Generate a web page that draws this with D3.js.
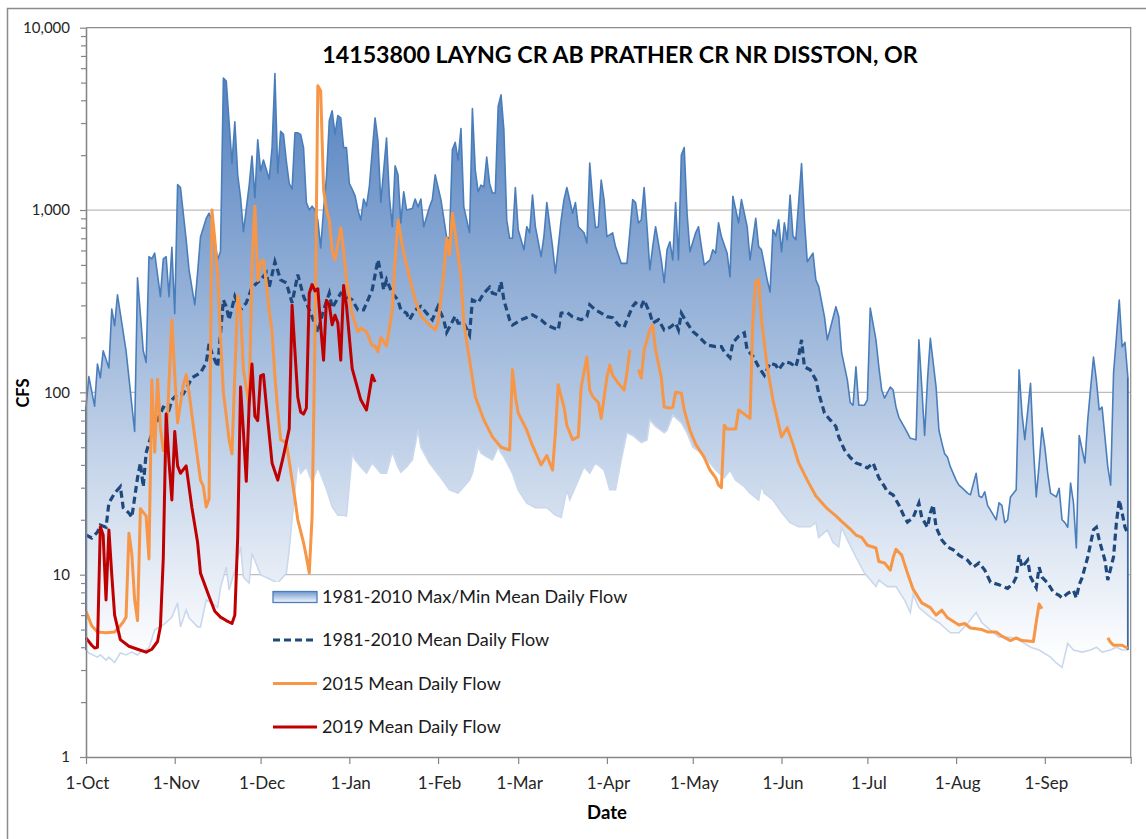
<!DOCTYPE html>
<html><head><meta charset="utf-8">
<script src="https://cdn.jsdelivr.net/npm/d3@7"></script>
<style>body{margin:0;background:#fff;} svg{display:block;font-family:Lato,"Open Sans",sans-serif;}</style>
</head><body><svg id="chart" width="1146" height="839"></svg>
<script>
// ---------- DATA (day index from 1-Oct, value in CFS) ----------
const chartTitle = "14153800 LAYNG CR AB PRATHER CR NR DISSTON, OR";
const yAxisTitle = "CFS";
const xAxisTitle = "Date";
const legendLabels = ["1981-2010 Max/Min Mean Daily Flow", "1981-2010 Mean Daily Flow", "2015 Mean Daily Flow", "2019 Mean Daily Flow"];
const yTickValues = [1, 10, 100, 1000, 10000];

const maxFlow = [[0,83],[1,122],[3,84],[4,143],[5,120],[6,169],[8,136],[9,286],[10,232],[11,343],[14,169],[17,61],[18,425],[20,169],[21,146],[22,555],[23,540],[24,580],[26,335],[27,540],[28,555],[29,335],[30,625],[31,270],[32,1380],[33,1330],[35,687],[36,470],[38,302],[39,455],[40,711],[42,900],[43,960],[44,883],[46,533],[47,595],[48,5300],[49,5100],[51,1800],[52,3050],[53,1560],[54,1170],[55,760],[57,1360],[58,1980],[59,1170],[60,2430],[61,1640],[62,1880],[64,1480],[65,2190],[66,5600],[67,1590],[68,2700],[69,2600],[70,1850],[71,1400],[72,1300],[73,2650],[74,2650],[75,2600],[76,2200],[77,1100],[78,1000],[79,1050],[80,1000],[81,880],[82,620],[83,1000],[84,1500],[85,3100],[86,3500],[87,2600],[88,3300],[89,3200],[90,2200],[91,2200],[92,1400],[93,1300],[94,1200],[95,1000],[96,880],[97,1150],[98,1050],[99,1350],[100,2100],[101,3200],[102,2400],[103,1100],[105,2480],[106,1180],[107,810],[108,1750],[109,1560],[110,850],[111,1260],[112,1000],[114,1020],[115,1150],[116,1040],[117,1150],[118,810],[120,1040],[121,1140],[122,1560],[124,1140],[126,710],[127,700],[128,2140],[129,2350],[130,1880],[131,2800],[132,1040],[134,750],[135,3600],[136,1660],[137,1260],[138,1370],[139,1340],[140,1950],[141,1400],[142,1240],[143,1240],[144,3700],[145,4280],[146,2750],[147,880],[148,700],[149,700],[150,1330],[151,780],[153,605],[154,810],[155,750],[156,1210],[157,810],[159,555],[160,720],[161,1100],[163,630],[164,450],[166,880],[167,1140],[168,1330],[170,960],[171,1100],[172,810],[174,750],[175,660],[176,1810],[177,1140],[178,800],[179,810],[180,1460],[181,1140],[182,715],[184,750],[185,630],[187,510],[189,510],[190,750],[191,1140],[192,1100],[193,850],[194,880],[195,1330],[196,810],[197,470],[198,630],[199,810],[201,533],[202,400],[203,605],[204,670],[205,533],[206,1100],[207,533],[208,2000],[209,2200],[210,960],[211,590],[213,750],[214,810],[215,630],[216,500],[218,533],[219,605],[220,580],[221,850],[222,715],[224,580],[225,430],[226,1190],[228,850],[229,1140],[231,810],[232,533],[234,900],[235,630],[236,605],[238,414],[239,355],[240,780],[241,720],[242,883],[243,590],[244,850],[245,687],[246,1210],[247,720],[248,687],[250,1800],[251,883],[252,520],[254,580],[255,414],[256,380],[258,260],[259,194],[262,295],[263,260],[264,165],[266,117],[267,88],[268,85],[269,138],[270,85],[272,85],[273,91],[274,290],[276,194],[277,138],[278,103],[279,93],[281,107],[282,103],[283,83],[284,73],[286,64],[287,60],[288,56],[290,55],[291,194],[292,107],[293,58],[294,117],[295,198],[297,107],[298,62],[299,53],[300,46],[301,44],[302,39],[304,33],[305,31],[306,30],[307,29],[308,28],[309,27.4],[311,36],[312,27],[313,26.5],[314,28.5],[315,24],[316,22.6],[318,20],[319,24.8],[320,24],[321,19.3],[322,20],[323,26.7],[325,29.2],[326,133],[327,77],[328,55],[330,112],[331,50],[332,26.7],[333,40],[334,64],[335,50],[336,36],[337,28],[339,26.7],[340,29.8],[341,20],[342,19.3],[343,18.2],[344,31.8],[345,24.8],[346,14],[347,58],[349,41],[350,71],[352,156],[353,117],[354,80],[355,83],[357,39],[358,31],[359,127],[360,200],[361,321],[362,178],[363,188],[364,121]];

const minFlow = [[0,3.86],[1,3.72],[4,3.53],[5,3.63],[7,3.4],[8,3.53],[10,3.3],[12,3.72],[14,3.63],[16,3.76],[18,3.63],[19,3.76],[22,3.96],[24,4.97],[25,5.1],[27,5.3],[29,5.64],[30,5.85],[32,7.0],[33,5.17],[35,6.4],[36,5.8],[39,5.17],[40,5.17],[42,7.26],[44,7.0],[46,6.6],[47,8.5],[49,11],[50,8.24],[52,10.6],[54,14.2],[55,9.7],[57,9.0],[58,13.1],[61,9.96],[64,9.5],[67,9.0],[70,10.2],[71,13.7],[72,20.2],[74,41.5],[75,36],[77,39],[79,32],[81,39],[84,29.5],[86,23.6],[88,21.2],[90,21.2],[91,21],[93,46],[94,42.6],[96,39],[98,36],[100,41],[103,36],[105,36],[107,47],[109,39],[110,36.5],[112,39],[114,42.6],[116,62],[117,50],[120,41],[124,34],[127,29.2],[130,28],[132,30.4],[134,33],[135,36],[137,50],[138,46.5],[140,44.3],[142,42.6],[144,50],[145,46.5],[146,44.3],[149,36],[151,29.2],[154,24.7],[157,23.3],[161,23.3],[164,21.2],[166,20.6],[168,29.2],[169,25.7],[171,30.4],[174,39],[176,36],[178,41],[181,37.5],[183,29.2],[185,29.2],[187,42.6],[189,60],[191,58],[194,53],[196,54.8],[197,70.6],[199,65],[202,60],[203,62],[205,75],[208,68],[210,60],[212,50],[215,46.5],[218,41],[220,37.5],[223,34],[225,37.5],[227,33],[230,30.4],[232,28],[235,25.7],[236,31],[237,28],[240,25.7],[243,22],[246,19.3],[249,18.3],[253,18.3],[255,19.3],[256,16],[259,17.6],[261,15],[263,14.2],[264,18.2],[266,15.5],[269,12.5],[272,10.2],[276,8.6],[277,9.35],[280,8.6],[283,8.6],[286,7.26],[288,6.2],[289,7.8],[291,6.6],[295,5.85],[298,5.45],[302,4.8],[305,4.8],[308,5.4],[311,6.2],[313,5.45],[316,4.97],[319,4.54],[323,4.54],[326,4.38],[330,4.0],[333,3.86],[337,3.53],[339,3.28],[341,3.1],[343,4.2],[345,3.86],[348,3.76],[351,3.86],[353,4.0],[355,3.76],[358,3.86],[360,4.0],[362,3.86],[364,3.86]];

const meanFlow = [[0,16.5],[2,15.9],[4,17.1],[5,18.7],[7,18.2],[8,24.7],[10,28],[12,30.4],[13,23.3],[15,21.8],[16,20.6],[18,34],[19,41],[20,30.4],[21,46.5],[23,60],[25,70.6],[27,83],[29,80],[30,90.8],[32,98],[34,98],[36,112],[37,120],[40,128],[42,145],[43,185],[44,164],[46,138],[48,321],[49,296],[50,250],[52,336],[54,283],[56,310],[58,377],[61,414],[63,453],[64,377],[66,520],[68,414],[70,398],[72,310],[74,442],[76,336],[79,260],[81,213],[83,283],[85,350],[86,290],[89,350],[91,336],[93,321],[95,283],[97,283],[100,365],[102,533],[103,453],[104,365],[105,414],[107,350],[109,321],[110,283],[112,272],[113,250],[115,283],[117,296],[119,272],[121,250],[123,296],[125,250],[126,213],[127,228],[129,262],[130,240],[132,240],[134,207],[135,321],[137,310],[139,350],[141,377],[142,350],[144,343],[145,405],[146,321],[148,250],[149,234],[152,250],[154,257],[156,266],[159,250],[161,234],[163,227],[165,220],[166,272],[168,275],[170,260],[171,257],[173,250],[175,260],[176,302],[178,283],[180,272],[182,260],[184,257],[186,234],[188,227],[189,250],[191,296],[192,310],[194,296],[195,321],[197,272],[198,240],[200,250],[202,220],[204,227],[206,240],[207,220],[208,272],[210,240],[212,216],[214,203],[217,182],[220,178],[222,178],[223,167],[225,155],[226,187],[228,203],[230,212],[231,171],[233,158],[235,138],[237,124],[239,145],[241,141],[242,133],[244,147],[246,145],[248,138],[249,158],[250,194],[251,138],[253,133],[255,117],[256,99],[258,77],[260,70.6],[262,65],[263,57],[265,48.3],[267,44],[269,41],[271,40],[273,38.5],[275,41],[277,34],[279,30.4],[280,28.5],[282,27.4],[284,24.1],[286,20.6],[287,19.4],[289,20.6],[291,24.7],[292,20.6],[294,18.2],[295,21.8],[296,24.1],[297,18.2],[299,15.5],[301,14.2],[303,13.7],[305,12.8],[308,12],[310,11],[312,11.6],[314,10.6],[316,9.1],[319,8.8],[322,8.4],[324,9],[325,9.7],[326,12.8],[327,11],[329,12],[330,9.7],[332,8.5],[333,11],[334,9.7],[336,9],[338,8],[340,7.7],[341,7.45],[343,7.9],[345,8.2],[346,7.45],[347,8.8],[348,9.6],[350,12.5],[352,17.6],[353,18.2],[354,15.5],[356,12],[357,9.35],[359,12.5],[360,19.2],[361,25.7],[362,21.8],[363,18.2],[364,16.8]];

const flow2015 = [[0,6.3],[2,5.25],[4,4.85],[7,4.8],[10,4.85],[12,5.25],[13,5.5],[14,5.85],[15,16.9],[16,13],[17,7.26],[18,5.6],[19,23],[21,21],[22,12.2],[23,117],[24,47],[25,118],[26,64],[27,48],[28,51],[30,250],[31,125],[32,68],[34,110],[35,125],[36,100],[38,57],[40,33],[41,30.5],[42,23.5],[43,26],[44,1000],[45,690],[46,440],[47,200],[48,100],[50,55],[51,46],[53,340],[54,280],[55,133],[57,85],[58,500],[59,1050],[60,410],[61,520],[62,530],[63,400],[64,280],[65,215],[66,122],[67,80],[68,55],[70,53],[71,42],[73,26],[74,20],[76,15],[77,12.5],[78,10.2],[79,21],[80,200],[81,4800],[82,4500],[83,1300],[84,1000],[85,880],[86,600],[87,533],[89,800],[90,600],[91,410],[93,270],[95,215],[96,225],[98,215],[100,180],[101,180],[102,167],[103,200],[105,180],[107,283],[108,533],[109,880],[111,580],[113,430],[115,321],[117,262],[120,234],[122,220],[123,240],[125,450],[126,700],[127,568],[128,960],[129,750],[131,430],[132,240],[134,151],[136,95],[139,70.6],[142,57],[145,50],[148,48.3],[149,133],[150,95],[151,77],[154,62],[156,51],[159,40],[161,45],[163,37.5],[164,60],[165,110],[167,83],[168,66],[170,55],[172,57],[173,107],[175,156],[176,103],[177,95],[179,88],[180,72],[182,121],[183,141],[184,124],[186,112],[188,103],[189,128],[190,171],[191,null],[193,133],[194,120],[195,171],[197,220],[198,234],[199,171],[201,121],[202,83],[204,82],[205,83],[206,100],[208,99],[209,80],[211,62],[213,52],[216,44],[218,37.5],[220,34],[221,31],[222,30],[223,66],[224,63],[226,63],[227,63],[228,80],[230,76],[232,72],[233,250],[234,405],[235,415],[236,250],[238,138],[240,91],[243,57],[245,64],[247,52],[249,41],[252,33],[255,27],[259,23],[262,21],[264,19.6],[267,17.8],[269,16.5],[271,16],[273,14.5],[276,14],[277,11.8],[279,11.6],[281,10.6],[282,12.4],[283,13.8],[285,12.8],[287,10.2],[289,8.3],[292,7.0],[295,6.6],[297,6.0],[299,6.4],[301,5.8],[305,5.3],[307,5.4],[309,5.1],[313,5.0],[315,4.85],[318,4.85],[320,4.6],[323,4.35],[325,4.5],[327,4.35],[331,4.3],[332,5.5],[333,6.9],[334,6.5],[335,null],[357,4.5],[358,4.25],[359,4.1],[361,4.1],[362,4.1],[364,3.95]];

const flow2019 = [[0,4.5],[2,4.1],[3,3.96],[4,4.0],[5,18.3],[6,16.5],[7,7.26],[8,17.6],[9,10],[10,6.0],[12,4.4],[15,4.05],[18,3.9],[21,3.76],[23,3.9],[25,4.3],[26,5.2],[27,12.3],[28,76],[29,41.5],[30,25.7],[31,61],[32,39.5],[33,36],[35,39.5],[37,23.3],[39,15],[40,10.2],[43,7.6],[45,6.3],[47,5.85],[49,5.6],[51,5.4],[52,6.0],[53,16],[54,107],[55,61],[56,32.5],[57,86],[58,143],[59,74],[60,70],[61,123],[62,125],[63,85],[65,41],[67,33],[69,45],[71,63],[72,300],[74,94],[75,78],[76,76],[77,82],[78,350],[79,390],[80,360],[81,370],[82,230],[83,150],[84,320],[85,302],[86,235],[87,265],[88,240],[89,150],[90,385],[91,300],[93,135],[96,91],[98,80],[100,124],[101,114]];

// ---------- LAYOUT ----------
const svg = d3.select("#chart");
const plot = {left: 86, right: 1130.7, top: 27.7, bottom: 757};
const start = new Date(Date.UTC(2018, 9, 1));
const end = new Date(Date.UTC(2019, 9, 1));
const x = d3.scaleUtc().domain([start, end]).range([plot.left, plot.right]);
const y = d3.scaleLog().domain([1, 10000]).range([plot.bottom, plot.top]);
const px = p => x(d3.utcDay.offset(start, p[0]));
const py = p => y(p[1]);
const line = d3.line().defined(p => p[1] != null).x(px).y(py);

const defs = svg.append("defs");
const g1 = defs.append("linearGradient").attr("id", "bandGrad")
  .attr("gradientUnits", "userSpaceOnUse").attr("x1", 0).attr("x2", 0).attr("y1", 70).attr("y2", 660);
g1.append("stop").attr("offset", 0).attr("stop-color", "#5280bf");
g1.append("stop").attr("offset", 1).attr("stop-color", "#ffffff");
const g2 = defs.append("linearGradient").attr("id", "legGrad").attr("x1", 0).attr("x2", 0).attr("y1", 0).attr("y2", 1);
g2.append("stop").attr("offset", 0).attr("stop-color", "#7099d0");
g2.append("stop").attr("offset", 1).attr("stop-color", "#f4f8fc");

svg.append("rect").attr("width", 1146).attr("height", 839).attr("fill", "#fff");
svg.append("rect").attr("x", 7.5).attr("y", 8.5).attr("width", 1160).attr("height", 850)
  .attr("fill", "none").attr("stroke", "#8c8c8c").attr("stroke-width", 1.5);

// gridlines
svg.append("g").selectAll("line").data([10, 100, 1000]).join("line")
  .attr("x1", plot.left).attr("x2", plot.right)
  .attr("y1", d => y(d)).attr("y2", d => y(d))
  .attr("stroke", "#bcbcbc").attr("stroke-width", 1.2);

// band
const bandPts = maxFlow.concat(minFlow.slice().reverse());
svg.append("path").attr("d", d3.line().x(px).y(py)(bandPts) + "Z")
  .attr("fill", "url(#bandGrad)").attr("stroke", "none");
svg.append("path").attr("d", line(minFlow)).attr("fill", "none")
  .attr("stroke", "#c9d8ec").attr("stroke-width", 1.6);
svg.append("path").attr("d", line(maxFlow)).attr("fill", "none")
  .attr("stroke", "#4a7ebb").attr("stroke-width", 1.6).attr("stroke-linejoin", "round");
[[maxFlow[0], minFlow[0]], [maxFlow[maxFlow.length - 1], minFlow[minFlow.length - 1]]].forEach(pair => {
  svg.append("path").attr("d", line(pair)).attr("stroke", "#3d6aa6").attr("stroke-width", 1.8);
});

// series lines
svg.append("path").attr("d", line(meanFlow)).attr("fill", "none")
  .attr("stroke", "#1f497d").attr("stroke-width", 3.2).attr("stroke-dasharray", "7,4");
svg.append("path").attr("d", line(flow2015)).attr("fill", "none")
  .attr("stroke", "#f79646").attr("stroke-width", 3).attr("stroke-linejoin", "round");
svg.append("path").attr("d", line(flow2019)).attr("fill", "none")
  .attr("stroke", "#c00000").attr("stroke-width", 3).attr("stroke-linejoin", "round");

// plot frame (top/right)
svg.append("path").attr("d", `M${plot.left},${plot.top}H${plot.right}V${plot.bottom}`)
  .attr("fill", "none").attr("stroke", "#8c8c8c").attr("stroke-width", 1.2);

// axes
const minorTicks = [];
[1, 10, 100, 1000].forEach(dec => { for (let k = 2; k <= 9; k++) minorTicks.push(dec * k); });
const yMinor = svg.append("g").attr("transform", `translate(${plot.left},0)`)
  .call(d3.axisLeft(y).tickValues(minorTicks).tickSize(5).tickSizeOuter(0).tickFormat(""));
const yMajor = svg.append("g").attr("transform", `translate(${plot.left},0)`)
  .call(d3.axisLeft(y).tickValues(yTickValues).tickSize(6).tickSizeOuter(0).tickPadding(10).tickFormat(d3.format(",")));
const monthTicks = d3.utcMonth.range(start, d3.utcDay.offset(end, 1));
const xAx = svg.append("g").attr("transform", `translate(0,${plot.bottom})`)
  .call(d3.axisBottom(x).tickValues(monthTicks).tickSize(7).tickSizeOuter(0).tickPadding(13)
    .tickFormat(d => d >= end ? "" : d3.utcFormat("%-d-%b")(d)));
[yMinor, yMajor, xAx].forEach(g => {
  g.selectAll(".domain").attr("stroke", "#868686").attr("stroke-width", 1.3);
  g.selectAll(".tick line").attr("stroke", "#868686").attr("stroke-width", 1.2);
  g.selectAll("text").attr("fill", "#262626").attr("font-family", "Lato, 'Open Sans', sans-serif");
});
yMajor.selectAll("text").attr("font-size", 15);
xAx.selectAll("text").attr("font-size", 17).attr("dx", 1);

// legend
const leg = svg.append("g");
leg.append("rect").attr("x", 266).attr("y", 582).attr("width", 375).attr("height", 160).attr("fill", "#fff");
const rowsY = [597, 640, 683.5, 727];
leg.append("rect").attr("x", 273).attr("y", rowsY[0] - 5.5).attr("width", 44).attr("height", 11)
  .attr("fill", "url(#legGrad)").attr("stroke", "#4a7ebb").attr("stroke-width", 1.3);
leg.append("line").attr("x1", 273).attr("x2", 317).attr("y1", rowsY[1]).attr("y2", rowsY[1])
  .attr("stroke", "#1f497d").attr("stroke-width", 3.2).attr("stroke-dasharray", "7,4");
leg.append("line").attr("x1", 273).attr("x2", 317).attr("y1", rowsY[2]).attr("y2", rowsY[2])
  .attr("stroke", "#f79646").attr("stroke-width", 3);
leg.append("line").attr("x1", 273).attr("x2", 317).attr("y1", rowsY[3]).attr("y2", rowsY[3])
  .attr("stroke", "#c00000").attr("stroke-width", 3);
leg.selectAll("text").data(legendLabels).join("text")
  .attr("x", 322).attr("y", (d, i) => rowsY[i]).attr("dy", "0.35em")
  .attr("font-size", 18).attr("fill", "#1a1a1a").text(d => d);

// titles
svg.append("text").attr("x", 620).attr("y", 63).attr("text-anchor", "middle")
  .attr("font-size", 23.2).attr("font-weight", "bold").attr("fill", "#000").text(chartTitle);
svg.append("text").attr("transform", "translate(23,393) rotate(-90)").attr("text-anchor", "middle")
  .attr("dy", "0.35em").attr("font-size", 16.5).attr("font-weight", "bold").attr("fill", "#000").text(yAxisTitle);
svg.append("text").attr("x", 607).attr("y", 819).attr("text-anchor", "middle")
  .attr("font-size", 18.5).attr("font-weight", "bold").attr("fill", "#000").text(xAxisTitle);
</script></body></html>
